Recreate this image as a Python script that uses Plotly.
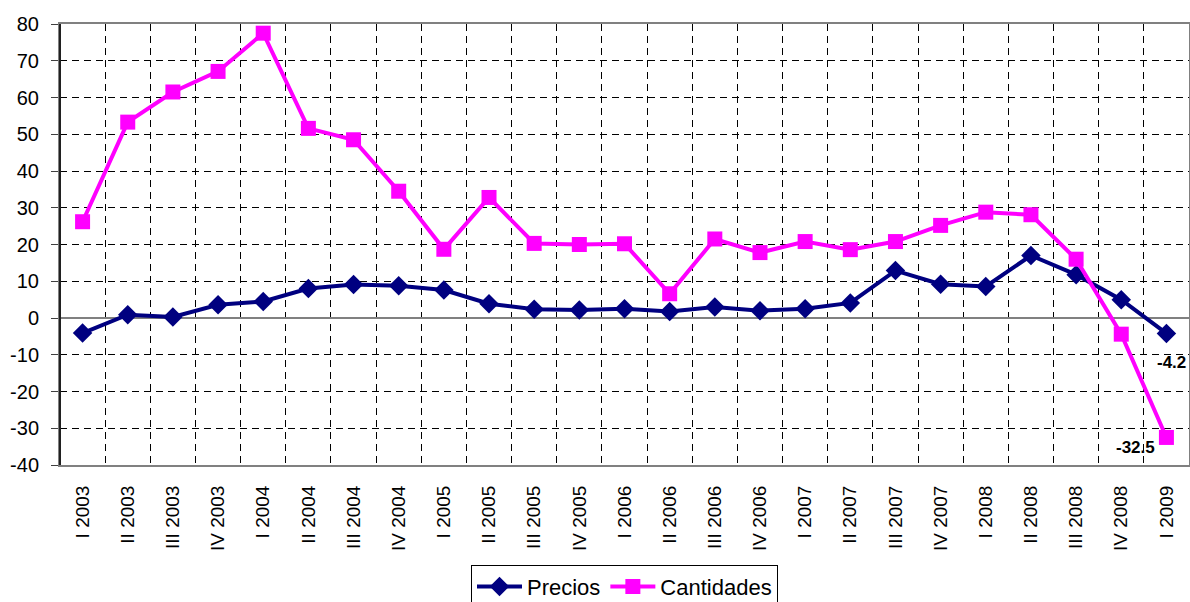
import plotly.graph_objects as go

categories = ["I 2003", "II 2003", "III 2003", "IV 2003",
              "I 2004", "II 2004", "III 2004", "IV 2004",
              "I 2005", "II 2005", "III 2005", "IV 2005",
              "I 2006", "II 2006", "III 2006", "IV 2006",
              "I 2007", "II 2007", "III 2007", "IV 2007",
              "I 2008", "II 2008", "III 2008", "IV 2008",
              "I 2009"]

precios = [-4.1, 0.9, 0.3, 3.6, 4.5, 8.0, 9.1, 8.8, 7.6, 3.9, 2.4, 2.2,
           2.5, 1.8, 3.0, 2.0, 2.5, 4.1, 12.9, 9.2, 8.6, 17.0, 11.8, 5.0, -4.2]

cantidades = [26.2, 53.3, 61.5, 67.1, 77.5, 51.6, 48.5, 34.5, 18.7, 32.8, 20.3, 20.0,
              20.2, 6.6, 21.5, 17.8, 20.8, 18.6, 20.8, 25.2, 28.8, 28.1, 16.0, -4.4, -32.5]

y_ticks = list(range(-40, 81, 10))

FONT = "Liberation Sans, Arial, sans-serif"

fig = go.Figure()
fig.add_trace(go.Scatter(
    x=categories, y=precios, name="Precios", mode="lines+markers",
    line=dict(color="#000080", width=4),
    marker=dict(symbol="diamond", size=15, color="#000080"),
))
fig.add_trace(go.Scatter(
    x=categories, y=cantidades, name="Cantidades", mode="lines+markers",
    line=dict(color="#FF00FF", width=4),
    marker=dict(symbol="square", size=15, color="#FF00FF"),
))

# data labels for the last point
fig.add_annotation(x=categories[-1], y=precios[-1], xref="x", yref="y",
                   text=f"{precios[-1]:.1f}", showarrow=False,
                   font=dict(family=FONT, size=17, color="black", weight="bold"),
                   xshift=5, yshift=-29)
fig.add_annotation(x=categories[-1], y=cantidades[-1], xref="x", yref="y",
                   text=f"{cantidades[-1]:.1f}", showarrow=False,
                   font=dict(family=FONT, size=17, color="black", weight="bold"),
                   xshift=-31, yshift=-10)

fig.update_layout(
    width=1190, height=602,
    margin=dict(l=60, r=1, t=24, b=137, autoexpand=False),
    paper_bgcolor="white", plot_bgcolor="white",
    font=dict(family=FONT, size=19, color="black"),
    showlegend=True,
    legend=dict(orientation="h", x=0.5, xanchor="center", y=-0.226, yanchor="top",
                bordercolor="black", borderwidth=1, font=dict(size=22),
                itemwidth=45, tracegroupgap=0),
)

fig.update_xaxes(
    type="category", range=[-0.5, len(categories) - 0.5],
    tickson="boundaries", tickangle=-90, automargin=False,
    showgrid=True, gridcolor="black", gridwidth=1, griddash="7px,5px",
    showline=True, linecolor="#808080", linewidth=2, mirror=True,
    ticks="", ticklabelstandoff=11,
    tickfont=dict(size=19, family=FONT, color="black"),
)
fig.update_yaxes(
    range=[-40, 80], tickvals=y_ticks, ticktext=[str(v) for v in y_ticks],
    automargin=False,
    showgrid=True, gridcolor="black", gridwidth=1, griddash="7px,5px",
    zeroline=True, zerolinecolor="#808080", zerolinewidth=2,
    showline=True, linecolor="#808080", linewidth=2, mirror=True,
    ticks="outside", ticklen=7, tickcolor="#404040", ticklabelstandoff=8,
    tickfont=dict(size=20, family=FONT, color="black"),
)
# left axis darker
fig.add_shape(type="line", xref="paper", yref="paper", x0=0, x1=0, y0=0, y1=1,
              line=dict(color="#202020", width=2), layer="above")

fig.write_html("out.html", config={"displayModeBar": False},
               post_script="document.body.style.margin='0px';document.body.style.overflow='hidden';")
